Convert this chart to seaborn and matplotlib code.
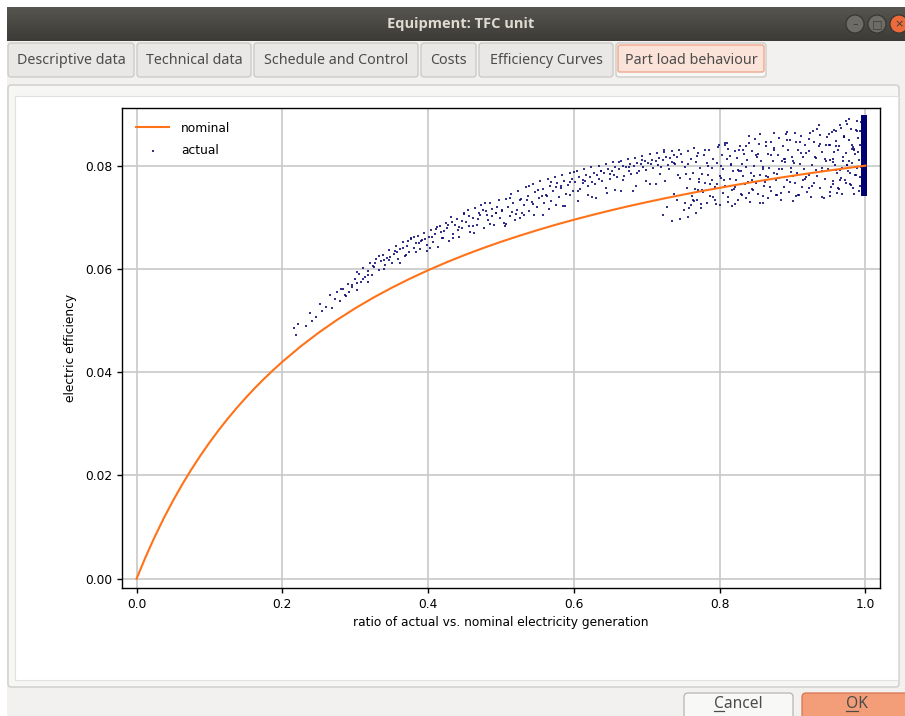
import numpy as np
import pandas as pd
import matplotlib
matplotlib.use("Agg")
import matplotlib.pyplot as plt
from matplotlib.patches import FancyBboxPatch, Rectangle, Circle
from matplotlib.colors import LinearSegmentedColormap
import seaborn as sns

# nominal part load curve
nominal_x = [0.0, 0.0125, 0.025, 0.0375, 0.05, 0.0625, 0.075, 0.0875, 0.1, 0.1125, 0.125,
             0.1375, 0.15, 0.1625, 0.175, 0.1875, 0.2, 0.225, 0.25, 0.275, 0.3, 0.325,
             0.35, 0.375, 0.4, 0.425, 0.45, 0.475, 0.5, 0.525, 0.55, 0.575, 0.6, 0.625,
             0.65, 0.675, 0.7, 0.725, 0.75, 0.775, 0.8, 0.825, 0.85, 0.875, 0.9, 0.925,
             0.95, 0.975, 1.0]
nominal_y = [0.0, 0.00425, 0.00815, 0.01177, 0.01512, 0.01823, 0.02113, 0.02384, 0.02638,
             0.02876, 0.0310, 0.0331, 0.03509, 0.03697, 0.03875, 0.04043, 0.04203, 0.0450,
             0.04769, 0.05015, 0.0524, 0.05447, 0.05637, 0.05813, 0.05977, 0.06129,
             0.06271, 0.06404, 0.06528, 0.06644, 0.06754, 0.06858, 0.06955, 0.07047,
             0.07135, 0.07218, 0.07296, 0.07371, 0.07442, 0.0751, 0.07573, 0.07637,
             0.07696, 0.07753, 0.07807, 0.07859, 0.07909, 0.07957, 0.08003]

# actual (simulated) points, estimated from the scatter
actual_low = [
    (0.216, 0.0485), (0.219, 0.0473), (0.222, 0.0494), (0.232, 0.0490), (0.238, 0.0514),
    (0.240, 0.0500), (0.246, 0.0508), (0.252, 0.0533), (0.255, 0.0519), (0.260, 0.0527),
    (0.266, 0.0549), (0.268, 0.0525), (0.272, 0.0541), (0.275, 0.0556), (0.279, 0.0538),
    (0.283, 0.0562), (0.286, 0.0549), (0.290, 0.0571), (0.292, 0.0556), (0.296, 0.0565),
    (0.299, 0.0581), (0.302, 0.0560), (0.305, 0.0590), (0.308, 0.0575), (0.311, 0.0602),
    (0.314, 0.0584), (0.317, 0.0596), (0.320, 0.0611), (0.323, 0.0589), (0.326, 0.0604),
    (0.329, 0.0620), (0.332, 0.0598), (0.335, 0.0615), (0.338, 0.0628), (0.341, 0.0607),
    (0.344, 0.0622), (0.347, 0.0636), (0.350, 0.0612), (0.353, 0.0630), (0.356, 0.0645),
    (0.359, 0.0619), (0.362, 0.0639), (0.365, 0.0652), (0.368, 0.0626), (0.371, 0.0644),
    (0.374, 0.0633), (0.377, 0.0658), (0.380, 0.0640), (0.383, 0.0650), (0.386, 0.0664),
    (0.389, 0.0638), (0.392, 0.0656), (0.395, 0.0670), (0.398, 0.0647), (0.401, 0.0662),
    (0.404, 0.0676), (0.407, 0.0652), (0.410, 0.0668), (0.413, 0.0643), (0.416, 0.0683),
    (0.419, 0.0660), (0.422, 0.0674), (0.425, 0.0689), (0.428, 0.0655), (0.431, 0.0700),
    (0.434, 0.0668), (0.437, 0.0685), (0.440, 0.0697), (0.443, 0.0662), (0.446, 0.0680),
    (0.449, 0.0706), (0.452, 0.0691), (0.455, 0.0714), (0.458, 0.0672), (0.461, 0.0699),
    (0.464, 0.0718), (0.467, 0.0686), (0.470, 0.0708), (0.473, 0.0724), (0.476, 0.0680),
    (0.479, 0.0713), (0.482, 0.0695), (0.485, 0.0728), (0.488, 0.0703), (0.491, 0.0686),
    (0.494, 0.0720), (0.497, 0.0733), (0.499, 0.0699),
    (0.303, 0.0572), (0.318, 0.0588), (0.327, 0.0612), (0.339, 0.0617), (0.348, 0.0624),
    (0.357, 0.0633), (0.366, 0.0641), (0.372, 0.0655), (0.381, 0.0662), (0.387, 0.0651),
    (0.396, 0.0658), (0.403, 0.0641), (0.411, 0.0678), (0.418, 0.0671), (0.426, 0.0679),
    (0.433, 0.0692), (0.441, 0.0676), (0.447, 0.0694), (0.456, 0.0703), (0.462, 0.0684),
    (0.468, 0.0697), (0.475, 0.0715), (0.481, 0.0704), (0.487, 0.0716), (0.493, 0.0708),
    (0.281, 0.0562), (0.288, 0.0548), (0.296, 0.0570), (0.303, 0.0595), (0.310, 0.0580),
    (0.318, 0.0574), (0.325, 0.0606), (0.332, 0.0626), (0.339, 0.0600), (0.347, 0.0618),
    (0.354, 0.0635), (0.361, 0.0612), (0.369, 0.0627), (0.376, 0.0660), (0.383, 0.0633),
    (0.390, 0.0655), (0.398, 0.0634), (0.405, 0.0662), (0.412, 0.0682), (0.420, 0.0661),
    (0.427, 0.0686), (0.434, 0.0660), (0.442, 0.0682), (0.449, 0.0709), (0.456, 0.0683),
    (0.463, 0.0669), (0.471, 0.0704), (0.478, 0.0727), (0.485, 0.0688), (0.493, 0.0708),
]

actual_mid = [
    (0.502, 0.0712), (0.504, 0.0690), (0.507, 0.0735), (0.509, 0.0721), (0.512, 0.0702),
    (0.514, 0.0745), (0.517, 0.0728), (0.519, 0.0695), (0.522, 0.0715), (0.524, 0.0751),
    (0.527, 0.0736), (0.529, 0.0708), (0.532, 0.0724), (0.534, 0.0758), (0.537, 0.0742),
    (0.539, 0.0712), (0.542, 0.0730), (0.544, 0.0764), (0.547, 0.0749), (0.549, 0.0720),
    (0.552, 0.0738), (0.554, 0.0770), (0.557, 0.0755), (0.559, 0.0727), (0.562, 0.0744),
    (0.564, 0.0775), (0.567, 0.0760), (0.569, 0.0732), (0.572, 0.0751), (0.574, 0.0779),
    (0.577, 0.0766), (0.579, 0.0740), (0.582, 0.0757), (0.584, 0.0783), (0.587, 0.0771),
    (0.589, 0.0746), (0.592, 0.0762), (0.594, 0.0787), (0.597, 0.0775), (0.599, 0.0751),
    (0.602, 0.0768), (0.604, 0.0790), (0.607, 0.0779), (0.609, 0.0756), (0.612, 0.0773),
    (0.614, 0.0794), (0.617, 0.0783), (0.619, 0.0760), (0.622, 0.0778), (0.624, 0.0797),
    (0.627, 0.0787), (0.629, 0.0765), (0.632, 0.0782), (0.634, 0.0800), (0.637, 0.0790),
    (0.639, 0.0770), (0.642, 0.0786), (0.644, 0.0803), (0.647, 0.0794), (0.649, 0.0774),
    (0.652, 0.0790), (0.654, 0.0807), (0.657, 0.0797), (0.659, 0.0778), (0.662, 0.0794),
    (0.664, 0.0810), (0.667, 0.0800), (0.669, 0.0781), (0.672, 0.0797), (0.674, 0.0813),
    (0.677, 0.0803), (0.679, 0.0785), (0.682, 0.0800), (0.684, 0.0816), (0.687, 0.0806),
    (0.689, 0.0789), (0.692, 0.0803), (0.694, 0.0819), (0.697, 0.0809), (0.699, 0.0792),
    (0.702, 0.0806), (0.704, 0.0822), (0.707, 0.0812), (0.709, 0.0795), (0.712, 0.0809),
    (0.714, 0.0825), (0.717, 0.0815), (0.719, 0.0798), (0.722, 0.0812), (0.724, 0.0827),
    (0.727, 0.0818), (0.729, 0.0801), (0.732, 0.0815), (0.734, 0.0829), (0.737, 0.0820),
    (0.739, 0.0804), (0.742, 0.0818), (0.744, 0.0831), (0.747, 0.0823), (0.749, 0.0808),
    (0.505, 0.0683), (0.515, 0.0711), (0.526, 0.0698), (0.535, 0.0733), (0.545, 0.0704),
    (0.556, 0.0741), (0.566, 0.0716), (0.575, 0.0758), (0.585, 0.0722), (0.595, 0.0768),
    (0.605, 0.0731), (0.615, 0.0770), (0.625, 0.0740), (0.635, 0.0775), (0.645, 0.0747),
    (0.655, 0.0783), (0.665, 0.0752), (0.675, 0.0790), (0.685, 0.0760), (0.695, 0.0798),
    (0.705, 0.0764), (0.715, 0.0802), (0.725, 0.0770), (0.735, 0.0808), (0.745, 0.0776),
    (0.501, 0.0714), (0.507, 0.0688), (0.513, 0.0738), (0.520, 0.0707), (0.526, 0.0734),
    (0.532, 0.0705), (0.538, 0.0760), (0.544, 0.0726), (0.551, 0.0754), (0.557, 0.0705),
    (0.563, 0.0742), (0.569, 0.0769), (0.575, 0.0725), (0.582, 0.0761), (0.588, 0.0722),
    (0.594, 0.0743), (0.600, 0.0788), (0.606, 0.0752), (0.613, 0.0767), (0.619, 0.0744),
    (0.625, 0.0768), (0.631, 0.0737), (0.637, 0.0790), (0.644, 0.0757), (0.650, 0.0784),
    (0.656, 0.0754), (0.662, 0.0807), (0.668, 0.0773), (0.675, 0.0798), (0.681, 0.0751),
    (0.687, 0.0786), (0.693, 0.0812), (0.699, 0.0770), (0.706, 0.0804), (0.712, 0.0765),
    (0.718, 0.0785), (0.724, 0.0830), (0.730, 0.0793), (0.737, 0.0806), (0.743, 0.0782),
    (0.722, 0.0704), (0.734, 0.0693), (0.742, 0.0734), (0.745, 0.0697), (0.756, 0.0700),
    (0.763, 0.0734), (0.770, 0.0753), (0.728, 0.0721), (0.751, 0.0715), (0.767, 0.0709),
    (0.775, 0.0726), (0.738, 0.0745),
]

actual_high = [
    (0.752, 0.0728), (0.753, 0.0798), (0.755, 0.0757), (0.756, 0.0829), (0.758, 0.0719),
    (0.759, 0.0774), (0.760, 0.0813), (0.762, 0.0742), (0.763, 0.0787), (0.765, 0.0835),
    (0.766, 0.0755), (0.768, 0.0807), (0.769, 0.0734), (0.770, 0.0825), (0.772, 0.0769),
    (0.773, 0.0796), (0.775, 0.0718), (0.776, 0.0784), (0.777, 0.0750), (0.779, 0.0821),
    (0.780, 0.0766), (0.782, 0.0806), (0.783, 0.0728), (0.784, 0.0782), (0.786, 0.0830),
    (0.787, 0.0741), (0.789, 0.0795), (0.790, 0.0773), (0.791, 0.0814), (0.793, 0.0759),
    (0.794, 0.0734), (0.796, 0.0806), (0.797, 0.0764), (0.798, 0.0837), (0.800, 0.0725),
    (0.801, 0.0781), (0.803, 0.0821), (0.804, 0.0748), (0.805, 0.0794), (0.807, 0.0844),
    (0.808, 0.0760), (0.810, 0.0814), (0.811, 0.0739), (0.812, 0.0833), (0.814, 0.0774),
    (0.815, 0.0802), (0.817, 0.0722), (0.818, 0.0790), (0.819, 0.0755), (0.821, 0.0829),
    (0.822, 0.0773), (0.824, 0.0815), (0.825, 0.0733), (0.826, 0.0789), (0.828, 0.0839),
    (0.829, 0.0746), (0.831, 0.0803), (0.832, 0.0780), (0.833, 0.0823), (0.835, 0.0765),
    (0.836, 0.0738), (0.838, 0.0812), (0.839, 0.0769), (0.840, 0.0845), (0.842, 0.0729),
    (0.843, 0.0787), (0.845, 0.0829), (0.846, 0.0753), (0.847, 0.0800), (0.849, 0.0852),
    (0.850, 0.0766), (0.852, 0.0823), (0.853, 0.0745), (0.854, 0.0842), (0.856, 0.0782),
    (0.857, 0.0810), (0.859, 0.0727), (0.860, 0.0798), (0.861, 0.0761), (0.863, 0.0838),
    (0.864, 0.0780), (0.866, 0.0823), (0.867, 0.0738), (0.868, 0.0796), (0.870, 0.0847),
    (0.871, 0.0752), (0.873, 0.0810), (0.874, 0.0787), (0.875, 0.0831), (0.877, 0.0772),
    (0.878, 0.0744), (0.880, 0.0821), (0.881, 0.0776), (0.882, 0.0854), (0.884, 0.0734),
    (0.885, 0.0794), (0.887, 0.0838), (0.888, 0.0759), (0.889, 0.0808), (0.891, 0.0861),
    (0.892, 0.0773), (0.894, 0.0831), (0.895, 0.0750), (0.896, 0.0850), (0.898, 0.0788),
    (0.899, 0.0818), (0.901, 0.0732), (0.902, 0.0805), (0.903, 0.0767), (0.905, 0.0846),
    (0.906, 0.0787), (0.908, 0.0831), (0.909, 0.0744), (0.910, 0.0804), (0.912, 0.0857),
    (0.913, 0.0758), (0.915, 0.0818), (0.916, 0.0794), (0.917, 0.0840), (0.919, 0.0778),
    (0.920, 0.0750), (0.922, 0.0829), (0.923, 0.0783), (0.924, 0.0864), (0.926, 0.0740),
    (0.927, 0.0802), (0.929, 0.0847), (0.930, 0.0766), (0.931, 0.0817), (0.933, 0.0871),
    (0.934, 0.0780), (0.936, 0.0839), (0.937, 0.0757), (0.938, 0.0860), (0.940, 0.0796),
    (0.941, 0.0826), (0.943, 0.0738), (0.944, 0.0813), (0.945, 0.0774), (0.947, 0.0855),
    (0.948, 0.0794), (0.950, 0.0840), (0.951, 0.0750), (0.952, 0.0812), (0.954, 0.0866),
    (0.955, 0.0765), (0.957, 0.0827), (0.958, 0.0802), (0.959, 0.0849), (0.961, 0.0786),
    (0.962, 0.0757), (0.964, 0.0838), (0.965, 0.0791), (0.966, 0.0874), (0.968, 0.0746),
    (0.969, 0.0810), (0.971, 0.0856), (0.972, 0.0773), (0.973, 0.0825), (0.975, 0.0881),
    (0.976, 0.0789), (0.978, 0.0850), (0.979, 0.0765), (0.980, 0.0871), (0.982, 0.0805),
    (0.983, 0.0837), (0.985, 0.0745), (0.986, 0.0823), (0.987, 0.0783), (0.989, 0.0867),
    (0.901, 0.0810), (0.905, 0.0742), (0.910, 0.0847), (0.914, 0.0773), (0.919, 0.0824),
    (0.923, 0.0757), (0.928, 0.0868), (0.932, 0.0792), (0.937, 0.0842), (0.941, 0.0740),
    (0.946, 0.0810), (0.950, 0.0862), (0.955, 0.0770), (0.959, 0.0838), (0.964, 0.0755),
    (0.968, 0.0795), (0.973, 0.0886), (0.977, 0.0809), (0.982, 0.0833), (0.986, 0.0783),
    (0.951, 0.0841), (0.953, 0.0758), (0.955, 0.0807), (0.957, 0.0869), (0.959, 0.0791),
    (0.961, 0.0747), (0.963, 0.0831), (0.965, 0.0880), (0.967, 0.0777), (0.969, 0.0818),
    (0.971, 0.0858), (0.973, 0.0767), (0.975, 0.0801), (0.977, 0.0890), (0.979, 0.0787),
    (0.981, 0.0840), (0.983, 0.0757), (0.985, 0.0830), (0.987, 0.0870), (0.989, 0.0795),
    (0.754, 0.0784), (0.761, 0.0724), (0.769, 0.0819), (0.776, 0.0753), (0.784, 0.0800),
    (0.791, 0.0740), (0.799, 0.0841), (0.806, 0.0772), (0.814, 0.0819), (0.821, 0.0726),
    (0.829, 0.0790), (0.836, 0.0838), (0.844, 0.0755), (0.851, 0.0818), (0.859, 0.0742),
    (0.866, 0.0779), (0.874, 0.0863), (0.881, 0.0793), (0.889, 0.0814), (0.896, 0.0768),
    (0.757, 0.0803), (0.765, 0.0732), (0.772, 0.0775), (0.780, 0.0831), (0.787, 0.0764),
    (0.795, 0.0726), (0.802, 0.0800), (0.810, 0.0845), (0.817, 0.0754), (0.825, 0.0792),
    (0.832, 0.0830), (0.840, 0.0748), (0.847, 0.0780), (0.855, 0.0861), (0.862, 0.0769),
    (0.870, 0.0820), (0.877, 0.0744), (0.885, 0.0810), (0.892, 0.0850), (0.900, 0.0781),
    (0.802, 0.0777), (0.807, 0.0841), (0.812, 0.0730), (0.816, 0.0804), (0.821, 0.0759),
    (0.826, 0.0831), (0.831, 0.0744), (0.836, 0.0798), (0.840, 0.0857), (0.845, 0.0772),
    (0.850, 0.0821), (0.855, 0.0728), (0.860, 0.0794), (0.864, 0.0847), (0.869, 0.0758),
    (0.874, 0.0834), (0.879, 0.0784), (0.884, 0.0748), (0.888, 0.0813), (0.893, 0.0865),
    (0.898, 0.0795), (0.903, 0.0863), (0.908, 0.0744), (0.912, 0.0824), (0.917, 0.0775),
    (0.922, 0.0852), (0.927, 0.0760), (0.932, 0.0816), (0.936, 0.0879), (0.941, 0.0790),
    (0.946, 0.0841), (0.951, 0.0741), (0.956, 0.0813), (0.960, 0.0868), (0.965, 0.0773),
    (0.970, 0.0855), (0.975, 0.0801), (0.980, 0.0762), (0.984, 0.0833), (0.989, 0.0887),
    (0.991, 0.0752), (0.991, 0.0812), (0.992, 0.0868), (0.992, 0.0779), (0.993, 0.0840),
    (0.993, 0.0761), (0.994, 0.0884), (0.994, 0.0798), (0.990, 0.0826), (0.990, 0.0853),
]

# the solid stripe of full load hours at ratio ~1
full_load_x = [0.9965, 0.9995]
full_load_y = [0.0745, 0.0750, 0.0755, 0.0760, 0.0765, 0.0770, 0.0775, 0.0780, 0.0785,
               0.0790, 0.0795, 0.0800, 0.0805, 0.0810, 0.0815, 0.0820, 0.0825, 0.0830,
               0.0835, 0.0840, 0.0845, 0.0850, 0.0855, 0.0860, 0.0865, 0.0870, 0.0875,
               0.0880, 0.0885, 0.0890, 0.0895]

tab_labels = ["Descriptive data", "Technical data", "Schedule and Control", "Costs",
              "Efficiency Curves", "Part load behaviour"]

W, H = 905, 716
fig = plt.figure(figsize=(W / 100, H / 100), dpi=100)
fig.patch.set_facecolor("white")

# ---- window chrome, drawn in pixel coords ----
bg = fig.add_axes([0, 0, 1, 1])
bg.set_xlim(0, W)
bg.set_ylim(H, 0)
bg.axis("off")
ui_font = ["Noto Sans", "DejaVu Sans"]

bg.add_patch(Rectangle((7, 7), W - 7, H - 7, fc="#f2f1f0", ec="none"))
title_cmap = LinearSegmentedColormap.from_list("tb", ["#57554f", "#3c3b37"])
bg.imshow(np.linspace(0, 1, 40).reshape(-1, 1), extent=(7, W, 41, 7), cmap=title_cmap,
          aspect="auto", origin="upper", zorder=1)
bg.text(461, 24, "Equipment: TFC unit", ha="center", va="center", fontsize=10.5,
        fontweight="bold", color="#dfdbd2", family=["Open Sans", "DejaVu Sans"], zorder=3)
for cx, fc, sym in [(855, "#6e6c67", "–"), (877, "#6e6c67", "□"), (899, "#ed6b3b", "×")]:
    bg.add_patch(Circle((cx, 24), 9, fc=fc, ec="#34332f", lw=0.8, zorder=3))
    bg.text(cx, 24.5, sym, ha="center", va="center", fontsize=8, color="#3c3b37",
            family="DejaVu Sans", zorder=4)

tab_spans = [(8, 134), (137, 251), (254, 418), (421, 476), (479, 613), (616, 766)]
for (x0, x1), lab in zip(tab_spans, tab_labels):
    active = lab == "Part load behaviour"
    bg.add_patch(FancyBboxPatch((x0, 43), x1 - x0, 34, boxstyle="round,pad=0,rounding_size=3",
                                fc="#f7f7f6" if active else "#e9e8e6", ec="#cac8c4", lw=0.9,
                                zorder=2))
    if active:
        bg.add_patch(FancyBboxPatch((x0 + 2, 45), x1 - x0 - 4, 27,
                                    boxstyle="round,pad=0,rounding_size=2",
                                    fc="#fbe3da", ec="#f0a88c", lw=1.0, zorder=3))
    bg.text((x0 + x1) / 2, 61, lab, ha="center", va="center", fontsize=10.3,
            color="#4c4c4c", family=ui_font, zorder=4)

# notebook page
bg.add_patch(FancyBboxPatch((8, 85), 891, 602, boxstyle="round,pad=0,rounding_size=3",
                            fc="#f6f6f5", ec="#cfcdca", lw=1.0, zorder=2))
bg.add_patch(Rectangle((15, 96), 883, 584, fc="white", ec="#e2e1df", lw=0.8, zorder=3))

# dialog buttons
bg.add_patch(FancyBboxPatch((684, 693), 109, 30, boxstyle="round,pad=0,rounding_size=4",
                            fc="#f8f8f7", ec="#b8b5b0", lw=0.9, zorder=2))
bg.add_patch(FancyBboxPatch((802, 693), 110, 30, boxstyle="round,pad=0,rounding_size=4",
                            fc="#f39d79", ec="#d9744f", lw=0.9, zorder=2))
btn_texts = []
for cx, lab in [(738, "Cancel"), (857, "OK")]:
    t = bg.text(cx, 704, lab, ha="center", va="center", fontsize=11.2, color="#4c4c4c",
                family=ui_font, zorder=4)
    btn_texts.append(t)

# ---- the chart ----
ax = fig.add_axes([122 / W, 1 - 588 / H, (880 - 122) / W, (588 - 107.5) / H])
ax.set_facecolor("white")

nom_df = pd.DataFrame({"ratio": nominal_x, "eff": nominal_y})
act_df = pd.DataFrame(actual_low + actual_mid + actual_high, columns=["ratio", "eff"])
full_df = pd.DataFrame([(x, y) for x in full_load_x for y in full_load_y],
                       columns=["ratio", "eff"])

sns.lineplot(data=nom_df, x="ratio", y="eff", color="#ff7218", lw=1.5, ax=ax,
             label="nominal", zorder=3)
sns.scatterplot(data=act_df, x="ratio", y="eff", color="#000070", marker="s", s=2.3,
                alpha=0.8, linewidth=0, ax=ax, label="actual", zorder=2)
sns.scatterplot(data=full_df, x="ratio", y="eff", color="#000070", marker="s", s=9,
                linewidth=0, ax=ax, zorder=2, legend=False)

ax.set_xlim(-0.02, 1.02)
ax.set_ylim(-0.0018, 0.0913)
ax.set_xticks([0.0, 0.2, 0.4, 0.6, 0.8, 1.0])
ax.set_yticks([0.0, 0.02, 0.04, 0.06, 0.08])
ax.yaxis.set_major_formatter(matplotlib.ticker.FormatStrFormatter("%.2f"))
ax.xaxis.set_major_formatter(matplotlib.ticker.FormatStrFormatter("%.1f"))
ax.grid(True, color="#c8c8c8", lw=1.2)
ax.set_axisbelow(True)
ax.tick_params(labelsize=8.8, length=3.5, width=1)
for sp in ax.spines.values():
    sp.set_linewidth(1.0)
ax.set_xlabel("ratio of actual vs. nominal electricity generation", fontsize=8.8)
ax.set_ylabel("electric efficiency", fontsize=8.8, labelpad=6)
ax.legend(loc="upper left", frameon=False, fontsize=8.8, handlelength=2.7,
          handletextpad=1.0, labelspacing=0.75, borderaxespad=0.75)

# mnemonic underlines on the dialog buttons
fig.canvas.draw()
r = fig.canvas.get_renderer()
inv = bg.transData.inverted()
for t in btn_texts:
    bb = t.get_window_extent(r)
    first = bg.text(0, 0, t.get_text()[0], fontsize=11.2, family=ui_font)
    fw = first.get_window_extent(r).width
    first.remove()
    (x0, y0) = inv.transform((bb.x0, bb.y0))
    (x1, _) = inv.transform((bb.x0 + fw, bb.y0))
    bg.plot([x0, x1], [y0 - 1, y0 - 1], color="#4c4c4c", lw=0.9, zorder=4)

fig.savefig("out.png", dpi=100)
